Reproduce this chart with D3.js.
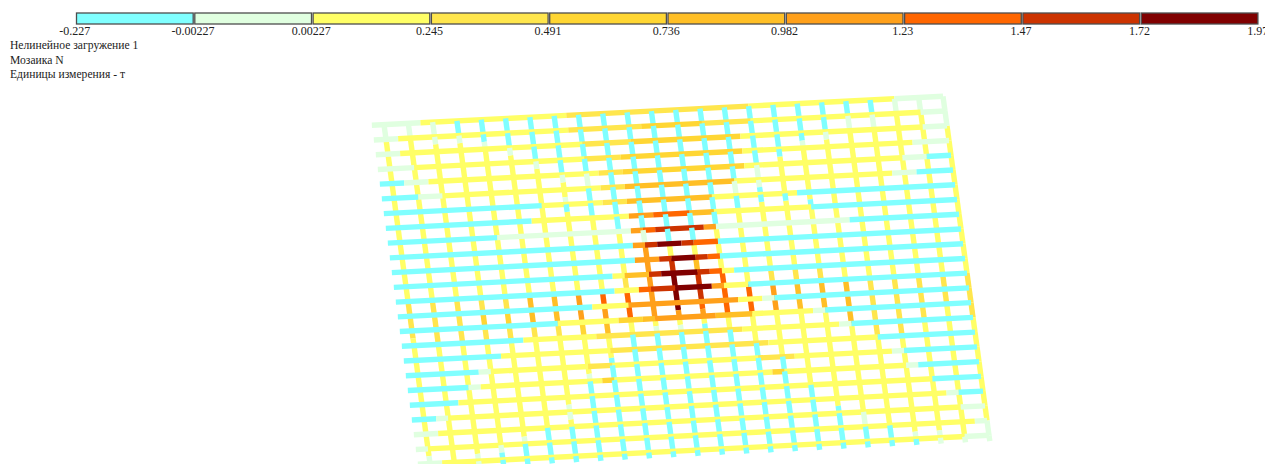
<!DOCTYPE html>
<html lang="ru">
<head>
<meta charset="utf-8">
<title>Мозаика N</title>
<script src="https://cdn.jsdelivr.net/npm/d3@7/dist/d3.min.js"></script>
<style>
    html, body { margin: 0; padding: 0; background: #fff; overflow: hidden; }
    svg { display: block; }
    text { font-family: "Liberation Serif", serif; font-size: 12px; fill: #222; }
    .title text { font-size: 11.6px; }
    .beams { filter: blur(0.4px); }
</style>
</head>
<body>
<script>
// legend
var tickLabels = ["-0.227", "-0.00227", "0.00227", "0.245", "0.491", "0.736", "0.982", "1.23", "1.47", "1.72", "1.97"];
var tickValues = [-0.227, -0.00227, 0.00227, 0.245, 0.491, 0.736, 0.982, 1.23, 1.47, 1.72, 1.97];
var bandColors = ["#80ffff", "#e0ffe0", "#ffff66", "#ffe64d", "#ffd633", "#ffbf26", "#ffa01a", "#ff6600", "#cc3300", "#800000"];
var titleLines = ["Нелинейное загружение 1", "Мозаика N", "Единицы измерения - т"];

// estimated force levels (t), one per legend band
var C = -0.11, P = 0, Y = 0.12, A = 0.37, B = 0.61, D = 0.86, E = 1.1, F = 1.35, G = 1.6, H = 1.85;

// beams along each row: [value, last half bay of the run], half bays 0..46
var rowRuns = [
    [[P,3],[Y,15],[A,30],[Y,42],[P,46]],
    [[P,1],[Y,15],[A,21],[B,26],[A,30],[Y,44],[P,46]],
    [[P,1],[Y,16],[A,20],[B,29],[Y,44],[P,46]],
    [[P,2],[Y,16],[A,19],[B,29],[Y,43],[P,46]],
    [[C,1],[P,3],[Y,17],[A,19],[B,29],[Y,42],[P,44],[C,46]],
    [[C,2],[P,4],[Y,17],[A,19],[D,28],[Y,41],[P,43],[C,46]],
    [[C,12],[Y,17],[A,19],[D,26],[Y,33],[C,46]],
    [[C,11],[Y,19],[E,21],[F,24],[D,26],[Y,34],[C,46]],
    [[C,8],[P,19],[E,20],[F,21],[G,25],[E,26],[P,37],[C,46]],
    [[C,19],[E,20],[G,21],[H,23],[G,24],[F,26],[C,46]],
    [[C,19],[E,21],[G,22],[H,24],[G,25],[F,26],[C,46]],
    [[C,17],[Y,18],[D,20],[G,21],[H,24],[G,25],[F,26],[Y,27],[C,46]],
    [[C,17],[Y,19],[F,20],[G,22],[H,25],[E,26],[Y,28],[C,46]],
    [[C,15],[Y,18],[E,27],[Y,29],[P,30],[C,46]],
    [[C,12],[Y,17],[B,19],[D,20],[E,25],[D,28],[Y,33],[P,34],[C,46]],
    [[C,9],[Y,15],[A,27],[Y,35],[P,36],[C,46]],
    [[C,7],[Y,16],[A,29],[Y,38],[C,46]],
    [[C,5],[P,6],[Y,14],[A,16],[Y,28],[A,31],[Y,39],[P,40],[C,46]],
    [[C,4],[P,5],[Y,15],[B,16],[Y,29],[B,30],[Y,40],[P,41],[C,46]],
    [[C,3],[Y,42],[C,46]],
    [[C,1],[P,2],[Y,43],[P,44],[C,46]],
    [[P,1],[Y,44],[P,46]],
    [[P,0],[Y,45],[P,46]],
    [[P,1],[Y,44],[P,46]]
];

// beams along each column, same run format, half bays 0..46 from the top
var colRuns = [
    [[P,1],[Y,23],[A,28],[Y,44],[P,46]],
    [[P,1],[Y,23],[A,29],[Y,46]],
    [[P,2],[Y,23],[A,29],[Y,44],[P,46]],
    [[C,1],[P,2],[Y,23],[A,25],[B,27],[A,29],[Y,43],[P,44],[C,46]],
    [[C,2],[P,3],[Y,23],[A,25],[B,27],[A,29],[Y,42],[P,43],[C,46]],
    [[C,3],[P,4],[Y,23],[D,27],[A,29],[Y,41],[C,46]],
    [[C,5],[P,6],[Y,23],[D,27],[A,29],[Y,38],[P,40],[Y,41],[C,46]],
    [[C,7],[P,8],[Y,10],[P,11],[C,12],[Y,23],[E,27],[B,29],[Y,34],[P,35],[C,46]],
    [[C,7],[P,9],[C,13],[Y,23],[F,25],[E,27],[D,29],[Y,32],[C,46]],
    [[C,15],[Y,21],[A,23],[F,27],[Y,29],[C,46]],
    [[C,15],[P,17],[E,27],[Y,28],[P,29],[C,46]],
    [[C,17],[Y,19],[G,21],[H,26],[E,27],[Y,28],[P,29],[C,46]],
    [[C,17],[Y,19],[D,21],[G,25],[F,26],[E,27],[Y,28],[C,46]],
    [[C,15],[Y,21],[F,27],[Y,29],[C,46]],
    [[C,9],[P,11],[C,13],[Y,23],[F,27],[Y,31],[C,46]],
    [[C,7],[P,10],[C,12],[Y,21],[A,23],[E,27],[Y,33],[C,46]],
    [[C,6],[Y,11],[C,12],[Y,21],[A,23],[D,27],[Y,37],[C,46]],
    [[C,4],[P,5],[Y,12],[C,13],[Y,21],[A,23],[D,27],[Y,40],[C,46]],
    [[C,3],[P,4],[Y,23],[D,29],[Y,41],[P,43],[C,46]],
    [[C,1],[P,3],[Y,23],[A,31],[Y,43],[C,46]],
    [[C,1],[P,3],[Y,23],[A,31],[Y,44],[P,45],[C,46]],
    [[P,1],[Y,23],[A,29],[Y,44],[P,46]],
    [[P,1],[Y,23],[A,27],[Y,45],[P,46]],
    [[P,3],[Y,23],[A,29],[Y,43],[P,46]]
];

var w = 1265;
var h = 464;
var beamWidth = 5.4;

var svg = d3.select("body").append("svg")
    .attr("width", w)
    .attr("height", h);

// colour from the legend thresholds
var color = d3.scaleThreshold()
    .domain(tickValues.slice(1, -1))
    .range(bandColors);

// the plan is skewed: column position comes from one pair of scales, row offset from another
var colX = d3.scaleLinear().domain([0, 23]).range([384, 943]);
var colY = d3.scaleLinear().domain([0, 23]).range([124.6, 96.3]);
var rowX = d3.scaleLinear().domain([0, 23]).range([0, 46]);
var rowY = d3.scaleLinear().domain([0, 23]).range([0, 339]);

function place(col, row) {
    return [colX(col) + rowX(row), colY(col) + rowY(row)];
}

// turn the runs into line records; row beams start half a bay before column 0
// warm column pieces lie under every row; cold ones cover the lower half of the row above
function rowSegments(runs, row) {
    var start = 0;
    return runs.map(function(r) {
        var seg = { v: r[0], order: row * 2, a: place(start / 2 - 0.5, row), b: place((r[1] + 1) / 2 - 0.5, row) };
        start = r[1] + 1;
        return seg;
    });
}
function colSegments(runs, col) {
    var start = 0;
    var segs = [];
    runs.forEach(function(r) {
        // the last half bay is only a short stub below the bottom row
        var end = r[1] == 46 ? 23.4 : (r[1] + 1) / 2;
        var s = start / 2;
        while (s < end) {
            var next = Math.min(Math.floor(s) + 1, end);
            segs.push({ v: r[0], order: r[0] <= P ? Math.floor(s) * 2 + 1 : -1, a: place(col, s), b: place(col, next) });
            s = next;
        }
        start = r[1] + 1;
    });
    return segs;
}

var segments = d3.merge(rowRuns.map(rowSegments).concat(colRuns.map(colSegments)))
    .sort(function(p, q) { return d3.ascending(p.order, q.order); });

svg.append("g").attr("class", "beams")
    .selectAll("line")
    .data(segments)
    .enter()
    .append("line")
    .attr("x1", function(d) { return d.a[0]; })
    .attr("y1", function(d) { return d.a[1]; })
    .attr("x2", function(d) { return d.b[0]; })
    .attr("y2", function(d) { return d.b[1]; })
    .attr("stroke", function(d) { return color(d.v); })
    .attr("stroke-width", beamWidth);

// legend bar
var legendX = d3.scaleLinear().domain([0, bandColors.length]).range([76, 1259]);

svg.append("g").selectAll("rect")
    .data(bandColors)
    .enter()
    .append("rect")
    .attr("x", function(d, i) { return legendX(i) + 0.5; })
    .attr("y", 13)
    .attr("width", legendX(1) - legendX(0) - 1.6)
    .attr("height", 11)
    .attr("fill", function(d) { return d; })
    .attr("stroke", "#4d4d4d")
    .attr("stroke-width", 1.3);

svg.append("g").selectAll("text")
    .data(tickLabels)
    .enter()
    .append("text")
    .attr("x", function(d, i) { return legendX(i) - 1.3; })
    .attr("y", 35)
    .attr("text-anchor", "middle")
    .text(function(d) { return d; });

svg.append("g").attr("class", "title").selectAll("text")
    .data(titleLines)
    .enter()
    .append("text")
    .attr("x", 10)
    .attr("y", function(d, i) { return 49 + i * 14.5; })
    .text(function(d) { return d; });
</script>
</body>
</html>
